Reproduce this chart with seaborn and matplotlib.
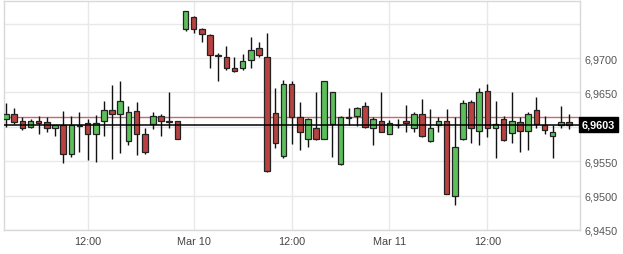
import matplotlib
matplotlib.use("Agg")
import matplotlib.pyplot as plt
import seaborn as sns
import numpy as np
import pandas as pd

# ---- data ----
opens = [6.9611, 6.9619, 6.9608, 6.9600, 6.9608, 6.9607, 6.9599, 6.9602, 6.9560, 6.9603,
         6.9605, 6.9590, 6.9608, 6.9625, 6.9619, 6.9580, 6.9623, 6.9589, 6.9604, 6.9616,
         6.9608, 6.9608, 6.9743, 6.9760, 6.9742, 6.9734, 6.9704, 6.9702, 6.9686, 6.9686,
         6.9697, 6.9714, 6.9702, 6.9620, 6.9557, 6.9662, 6.9614, 6.9583, 6.9599, 6.9583,
         6.9604, 6.9546, 6.9614, 6.9616, 6.9630, 6.9599, 6.9609, 6.9590, 6.9603, 6.9608,
         6.9599, 6.9619, 6.9579, 6.9603, 6.9608, 6.9499, 6.9582, 6.9636, 6.9594, 6.9652,
         6.9599, 6.9612, 6.9591, 6.9607, 6.9594, 6.9625, 6.9603, 6.9586, 6.9603, 6.9607]
highs = [6.9635, 6.9627, 6.9614, 6.9611, 6.9616, 6.9614, 6.9603, 6.9623, 6.9616, 6.9622,
         6.9611, 6.9617, 6.9638, 6.9661, 6.9667, 6.9630, 6.9636, 6.9599, 6.9622, 6.9619,
         6.9651, 6.9609, 6.9769, 6.9761, 6.9744, 6.9735, 6.9707, 6.9717, 6.9702, 6.9706,
         6.9731, 6.9724, 6.9736, 6.9657, 6.9668, 6.9667, 6.9636, 6.9613, 6.9650, 6.9667,
         6.9651, 6.9616, 6.9628, 6.9629, 6.9636, 6.9615, 6.9650, 6.9610, 6.9611, 6.9632,
         6.9622, 6.9640, 6.9626, 6.9615, 6.9626, 6.9615, 6.9639, 6.9639, 6.9657, 6.9662,
         6.9638, 6.9616, 6.9650, 6.9615, 6.9622, 6.9644, 6.9616, 6.9603, 6.9630, 6.9619]
lows = [6.9600, 6.9604, 6.9595, 6.9598, 6.9590, 6.9592, 6.9587, 6.9547, 6.9556, 6.9563,
        6.9552, 6.9549, 6.9586, 6.9553, 6.9562, 6.9573, 6.9559, 6.9561, 6.9597, 6.9587,
        6.9598, 6.9582, 6.9740, 6.9736, 6.9723, 6.9685, 6.9666, 6.9682, 6.9680, 6.9683,
        6.9685, 6.9702, 6.9535, 6.9569, 6.9554, 6.9575, 6.9567, 6.9570, 6.9581, 6.9582,
        6.9556, 6.9545, 6.9602, 6.9601, 6.9598, 6.9574, 6.9592, 6.9589, 6.9598, 6.9592,
        6.9592, 6.9585, 6.9578, 6.9593, 6.9502, 6.9487, 6.9581, 6.9577, 6.9574, 6.9585,
        6.9555, 6.9580, 6.9577, 6.9564, 6.9567, 6.9599, 6.9590, 6.9554, 6.9598, 6.9597]
closes = [6.9619, 6.9607, 6.9599, 6.9608, 6.9606, 6.9599, 6.9602, 6.9560, 6.9602, 6.9601,
          6.9590, 6.9605, 6.9625, 6.9619, 6.9638, 6.9621, 6.9590, 6.9563, 6.9616, 6.9608,
          6.9607, 6.9583, 6.9768, 6.9742, 6.9735, 6.9704, 6.9703, 6.9686, 6.9681, 6.9696,
          6.9712, 6.9705, 6.9536, 6.9577, 6.9662, 6.9614, 6.9592, 6.9611, 6.9582, 6.9666,
          6.9650, 6.9614, 6.9613, 6.9627, 6.9600, 6.9612, 6.9593, 6.9605, 6.9602, 6.9605,
          6.9619, 6.9586, 6.9599, 6.9608, 6.9503, 6.9570, 6.9634, 6.9599, 6.9650, 6.9599,
          6.9604, 6.9581, 6.9608, 6.9594, 6.9619, 6.9604, 6.9596, 6.9592, 6.9607, 6.9603]

x_tick_pos = [10, 23, 35, 47, 59]
x_tick_labels = ["12:00", "Mar 10", "12:00", "Mar 11", "12:00"]
y_ticks = [6.945, 6.950, 6.955, 6.960, 6.965, 6.970, 6.975]
y_tick_labels = ["6,9450", "6,9500", "6,9550", "", "6,9650", "6,9700", ""]
last_price = 6.9603
last_label = "6,9603"
ref_price = 6.9614

df = pd.DataFrame({"open": opens, "high": highs, "low": lows, "close": closes})
df["idx"] = np.arange(len(df))
df["up"] = df["close"] >= df["open"]

sns.set_theme(style="white")
plt.rcParams["font.family"] = ["Liberation Sans", "DejaVu Sans"]

fig = plt.figure(figsize=(6.23, 2.55), dpi=100)
ax = fig.add_axes([4 / 623, (255 - 231) / 255, 576 / 623, 229 / 255])
ax.set_facecolor("white")

green = "#5cbf5c"
red = "#b8423f"

# wicks
ax.vlines(df["idx"], df["low"], df["high"], color="#111111", linewidth=1.0, zorder=3)

# bodies
bottoms = np.minimum(df["open"], df["close"])
heights = np.abs(df["close"] - df["open"])
colors = [green if u else red for u in df["up"]]
ax.bar(df["idx"], heights, bottom=bottoms, width=0.68, color=colors,
       edgecolor="#222222", linewidth=0.9, zorder=4)

# reference lines
ax.axhline(ref_price, color="#c86a6a", linewidth=1.0, zorder=2)
ax.axhline(last_price, color="black", linewidth=1.1, zorder=5)

ax.set_xlim(-0.25, 70.35)
ax.set_ylim(6.945, 6.97830)

ax.set_xticks(x_tick_pos)
ax.set_xticklabels(x_tick_labels)
ax.set_yticks(y_ticks)
ax.set_yticklabels(y_tick_labels)
ax.yaxis.tick_right()
ax.tick_params(axis="y", length=0, pad=3, labelsize=7.8, labelcolor="#555555")
ax.tick_params(axis="x", length=0, pad=4, labelsize=7.8, labelcolor="#444444")

ax.grid(True, color="#e8e8e8", linewidth=1.0, zorder=0)
ax.set_axisbelow(True)
for s in ax.spines.values():
    s.set_color("#d8d8d8")
    s.set_linewidth(1.0)

ax.text(1.003, last_price, last_label, transform=ax.get_yaxis_transform(),
        ha="left", va="center", fontsize=7.8, color="white", fontweight="bold",
        bbox=dict(boxstyle="square,pad=0.25", facecolor="black", edgecolor="black"),
        zorder=6, clip_on=False)

ax.set_xlabel("")
ax.set_ylabel("")
fig.savefig("out.png", dpi=100)
